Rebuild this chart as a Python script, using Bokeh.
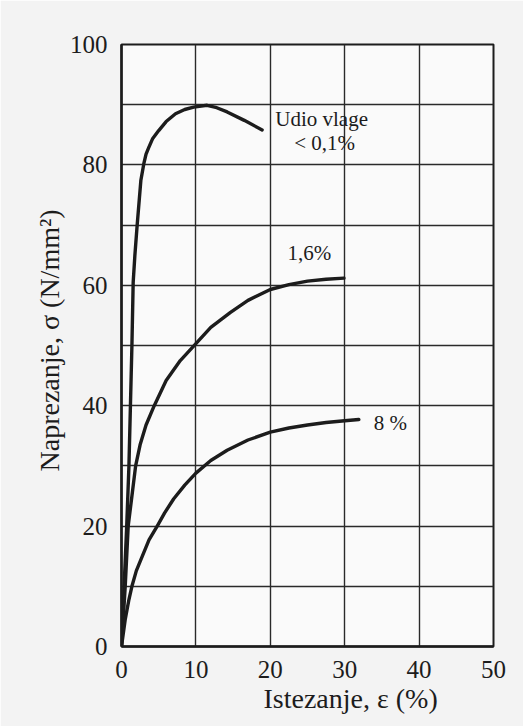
from bokeh.plotting import figure
from bokeh.models import FixedTicker, Label, Range1d, Title
from bokeh.embed import file_html
from bokeh.resources import INLINE

# ---- data ----
x_low = [0, 0.35, 0.7, 1.0, 1.2, 1.4, 1.57, 1.8, 2.1, 2.6, 3.0, 3.3, 3.67, 4.2, 5.0, 6.0, 7.26, 8.5, 9.7, 11.5, 12.8, 14.2, 16.5, 18.9]
y_low = [0, 10, 20, 30, 40, 50, 60.5, 65, 69.9, 77.4, 80.2, 81.8, 82.9, 84.4, 85.7, 87.2, 88.5, 89.2, 89.6, 89.9, 89.5, 88.8, 87.4, 85.8]

x_mid = [0, 0.5, 0.9, 1.4, 1.9, 2.5, 3.3, 4.4, 6.0, 7.9, 10, 12, 14.65, 17, 20, 22.5, 25, 27.5, 29.9]
y_mid = [0, 10, 20, 25, 30, 33.5, 36.8, 40, 44.2, 47.5, 50.3, 53, 55.5, 57.5, 59.3, 60.1, 60.7, 61.0, 61.2]

x_high = [0, 0.5, 1.0, 1.4, 2.0, 2.8, 3.7, 4.8, 5.8, 7.0, 8.5, 10, 12, 14.2, 17, 20, 22.5, 25, 27.5, 30, 31.9]
y_high = [0, 4.5, 7.8, 10, 12.6, 15, 17.7, 20, 22.2, 24.5, 26.8, 28.8, 30.9, 32.6, 34.3, 35.6, 36.3, 36.8, 37.2, 37.5, 37.7]

x_ticks = [0, 10, 20, 30, 40, 50]
y_ticks = [0, 20, 40, 60, 80, 100]
y_grid = [0, 10, 20, 30, 40, 50, 60, 70, 80, 90, 100]

x_title = "Istezanje, ε (%)"
y_title = "Naprezanje, σ (N/mm²)"

FONT = "'Liberation Serif', 'Times New Roman', serif"
INK = "#1c1c1c"

p = figure(width=523, height=726, output_backend="svg", toolbar_location=None,
           x_range=Range1d(0, 50), y_range=Range1d(0, 100),
           min_border_left=121, min_border_right=30, min_border_top=44, min_border_bottom=80)

p.background_fill_color = "#fafafa"
p.border_fill_color = "#f3f3f3"
p.outline_line_color = INK
p.outline_line_width = 2

p.xaxis.ticker = FixedTicker(ticks=x_ticks)
p.yaxis.ticker = FixedTicker(ticks=y_ticks)
p.xgrid.ticker = FixedTicker(ticks=x_ticks)
p.ygrid.ticker = FixedTicker(ticks=y_grid)
for g in (p.xgrid, p.ygrid):
    g.grid_line_color = "#2a2a2a"
    g.grid_line_width = 1.4

for ax in (p.xaxis, p.yaxis):
    ax.axis_line_color = INK
    ax.axis_line_width = 2.5
    ax.major_tick_line_color = None
    ax.minor_tick_line_color = None
    ax.major_label_text_font = FONT
    ax.major_label_text_font_size = "25px"
    ax.major_label_text_color = INK
    ax.major_label_standoff = 8

# axis titles as Titles so they can be offset like in the reference
p.add_layout(Title(text=x_title, align="left", offset=142, standoff=0,
                   text_font=FONT, text_font_size="28px", text_font_style="normal",
                   text_color=INK), "below")
p.add_layout(Title(text=y_title, align="left", offset=175, standoff=4,
                   text_font=FONT, text_font_size="28px", text_font_style="normal",
                   text_color=INK), "left")

for xs, ys in ((x_low, y_low), (x_mid, y_mid), (x_high, y_high)):
    p.line(xs, ys, line_color=INK, line_width=3.4, line_join="round", line_cap="round")

ann = dict(text_font=FONT, text_font_size="21px", text_color=INK)
p.add_layout(Label(x=26.9, y=85.7, text="Udio vlage", text_align="center", **ann))
p.add_layout(Label(x=27.3, y=81.6, text="< 0,1%", text_align="center", **ann))
p.add_layout(Label(x=22.3, y=63.3, text="1,6%", text_align="left", **ann))
p.add_layout(Label(x=33.9, y=35.2, text="8 %", text_align="left", **ann))

html = file_html(p, INLINE)
html = html.replace("<body>", '<body style="background:#f3f3f3">', 1)
open("out.html", "w").write(html)
